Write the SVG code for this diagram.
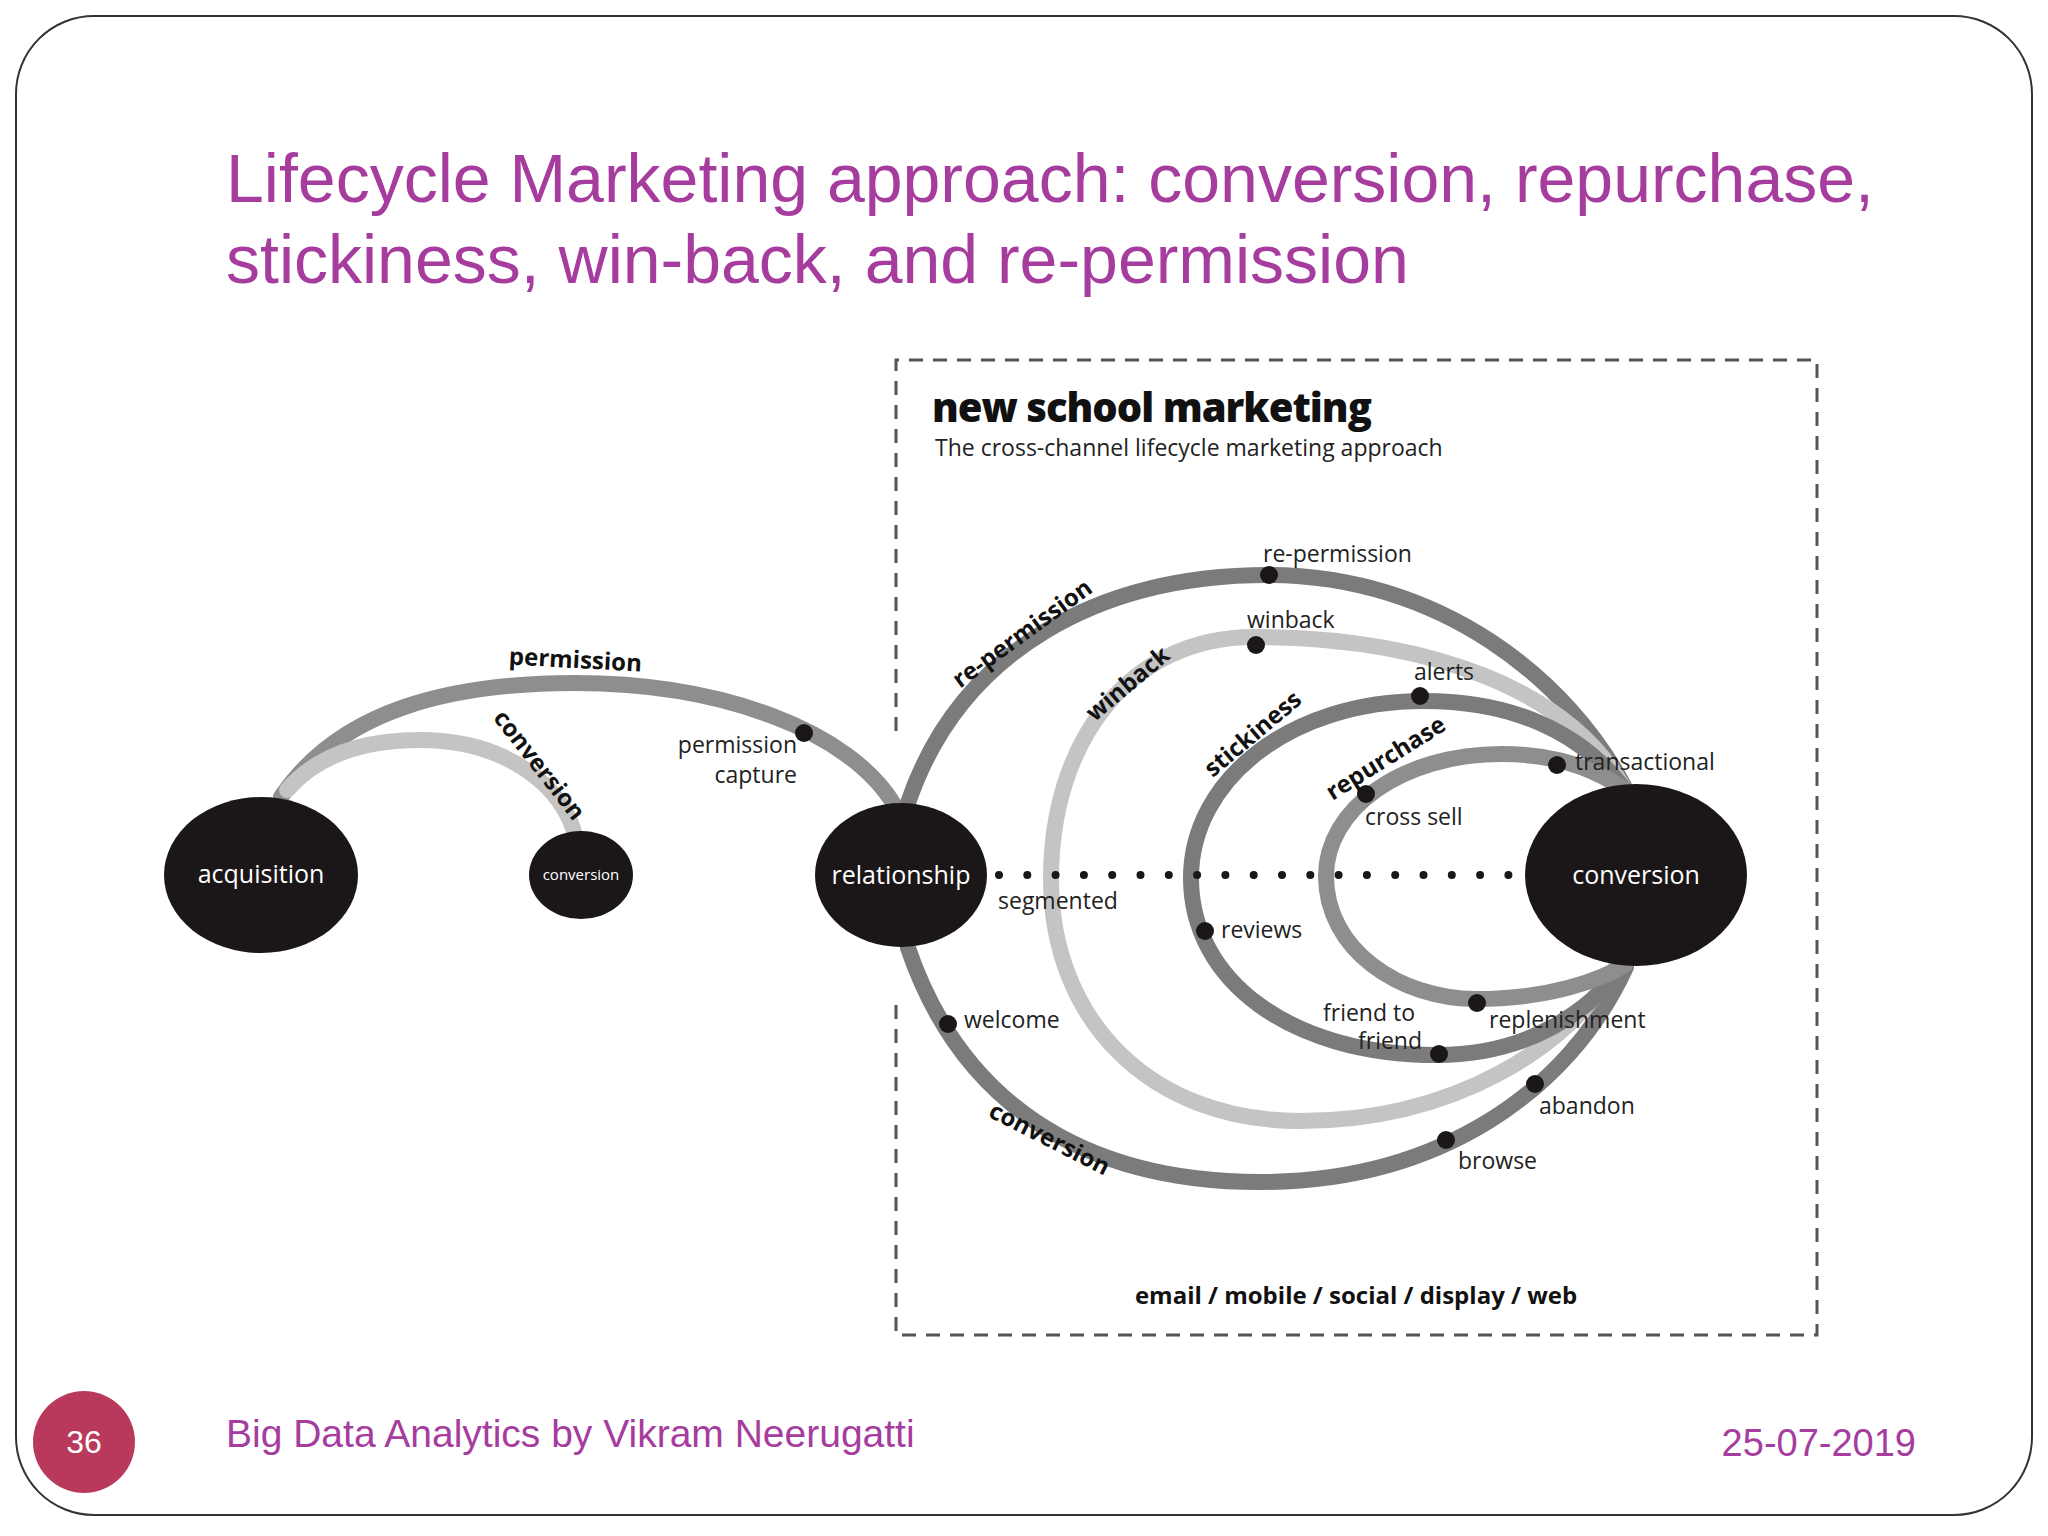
<svg xmlns="http://www.w3.org/2000/svg" width="2048" height="1536" viewBox="0 0 2048 1536">
<style>
.t{font-family:"Liberation Sans",Arial,sans-serif;fill:#A53C9E}
.lbl{font-family:"Open Sans","Lato",sans-serif;font-size:23px;fill:#222}
.bl{font-family:"Open Sans","Lato",sans-serif;font-size:24px;font-weight:bold;fill:#111;text-anchor:middle}
.nt{font-family:"Open Sans","Lato",sans-serif;font-size:25px;fill:#fff;text-anchor:middle}
.nts{font-family:"Open Sans","Lato",sans-serif;font-size:15px;fill:#fff;text-anchor:middle}
.node{fill:#1b1718}
.arc{fill:none;stroke-width:16;stroke-linecap:round}
.dk{stroke:#7b7b7b}.md{stroke:#8e8e8e}.lt{stroke:#c4c4c4}
.dot{fill:#1b1718}
</style>
<rect x="16" y="16" width="2016" height="1499" rx="78" fill="#fff" stroke="#333" stroke-width="2"/>
<text class="t" font-size="68" x="226" y="202">Lifecycle Marketing approach: conversion, repurchase,</text>
<text class="t" font-size="68" x="226" y="283">stickiness, win-back, and re-permission</text>
<g id="frame" fill="none" stroke="#555" stroke-width="3" stroke-dasharray="14 10">
<path d="M896,731 V360 H1817 V1335 H896 V1000"/>
</g>
<text x="932" y="422" font-family="'Open Sans',sans-serif" font-weight="800" font-size="40" fill="#111" letter-spacing="-1">new school marketing</text>
<text x="935" y="456" font-family="'Open Sans',sans-serif" font-size="23" fill="#222">The cross-channel lifecycle marketing approach</text>
<g id="connectors">
<path class="arc md" d="M281,797 C340,710 450,683 575,683 C720,683 850,730 895,806"/>
<path class="arc lt" d="M287,790 C320,752 370,740 420,740 C510,740 565,790 575,836"/>
<path class="arc dk" d="M908,803 C960,650 1100,575 1268,575 C1440,575 1570,680 1626,790"/>
<path class="arc dk" d="M908,948 C960,1100 1080,1182 1260,1182 C1440,1182 1570,1090 1626,967"/>
<path class="arc lt" d="M1625,790 C1570,690 1430,637 1254,637 C1130,637 1051,740 1051,879 C1051,1020 1150,1121 1300,1121 C1450,1121 1570,1050 1620,960"/>
<path class="arc dk" d="M1625,790 C1580,730 1510,701 1424,701 C1290,701 1191,780 1191,878 C1191,980 1290,1055 1437,1055 C1530,1055 1590,1010 1625,965"/>
<path class="arc md" d="M1625,790 C1590,765 1550,754 1502,754 C1400,754 1326,810 1326,876 C1326,950 1400,999 1476,999 C1550,999 1600,980 1625,965"/>
<line x1="999" y1="875" x2="1510" y2="875" stroke="#1b1718" stroke-width="8" stroke-linecap="round" stroke-dasharray="0 28.3"/>
</g>
<g id="dots">
<circle class="dot" cx="804" cy="733" r="9"/><circle class="dot" cx="1269" cy="575" r="9"/>
<circle class="dot" cx="1256" cy="645" r="9"/><circle class="dot" cx="1420" cy="696" r="9"/>
<circle class="dot" cx="1557" cy="765" r="9"/><circle class="dot" cx="1366" cy="794" r="9"/>
<circle class="dot" cx="1205" cy="931" r="9"/><circle class="dot" cx="1439" cy="1054" r="9"/>
<circle class="dot" cx="1477" cy="1003" r="9"/><circle class="dot" cx="1535" cy="1084" r="9"/>
<circle class="dot" cx="1446" cy="1140" r="9"/><circle class="dot" cx="948" cy="1024" r="9"/>
</g>
<g id="acquisition"><ellipse class="node" cx="261" cy="875" rx="97" ry="78"/><text class="nt" x="261" y="883">acquisition</text></g>
<g id="conversion-small"><ellipse class="node" cx="581" cy="875" rx="52" ry="44"/><text class="nts" x="581" y="880">conversion</text></g>
<g id="relationship"><ellipse class="node" cx="901" cy="875" rx="86" ry="72"/><text class="nt" x="901" y="884">relationship</text></g>
<g id="conversion"><ellipse class="node" cx="1636" cy="875" rx="111" ry="91"/><text class="nt" x="1636" y="884">conversion</text></g>
<g id="labels">
<text class="bl" transform="translate(575,668) rotate(3)">permission</text>
<text class="bl" transform="translate(533,770) rotate(52)">conversion</text>
<text class="bl" transform="translate(1027,640) rotate(-36)">re-permission</text>
<text class="bl" transform="translate(1133,690) rotate(-40)">winback</text>
<text class="bl" transform="translate(1258,740) rotate(-40)">stickiness</text>
<text class="bl" transform="translate(1390,765) rotate(-32)">repurchase</text>
<text class="bl" transform="translate(1046,1146) rotate(27)">conversion</text>
<text class="lbl" x="797" y="753" text-anchor="end">permission</text>
<text class="lbl" x="797" y="783" text-anchor="end">capture</text>
<text class="lbl" x="1263" y="562">re-permission</text>
<text class="lbl" x="1247" y="628">winback</text>
<text class="lbl" x="1414" y="680">alerts</text>
<text class="lbl" x="1575" y="770">transactional</text>
<text class="lbl" x="1365" y="825">cross sell</text>
<text class="lbl" x="998" y="909">segmented</text>
<text class="lbl" x="1221" y="938">reviews</text>
<text class="lbl" x="964" y="1028">welcome</text>
<text class="lbl" x="1323" y="1021">friend to</text>
<text class="lbl" x="1358" y="1049">friend</text>
<text class="lbl" x="1489" y="1028">replenishment</text>
<text class="lbl" x="1539" y="1114">abandon</text>
<text class="lbl" x="1458" y="1169">browse</text>
<text class="bl" x="1356" y="1304" font-size="23">email / mobile / social / display / web</text>
</g>
<g id="footer">
<circle cx="84" cy="1442" r="51" fill="#B8395C"/>
<text x="84" y="1453" font-family="'Liberation Sans',sans-serif" font-size="32" fill="#fff" text-anchor="middle">36</text>
<text class="t" x="226" y="1447" font-size="39">Big Data Analytics by Vikram Neerugatti</text>
<text class="t" x="1916" y="1456" font-size="38" text-anchor="end">25-07-2019</text>
</g>
</svg>
